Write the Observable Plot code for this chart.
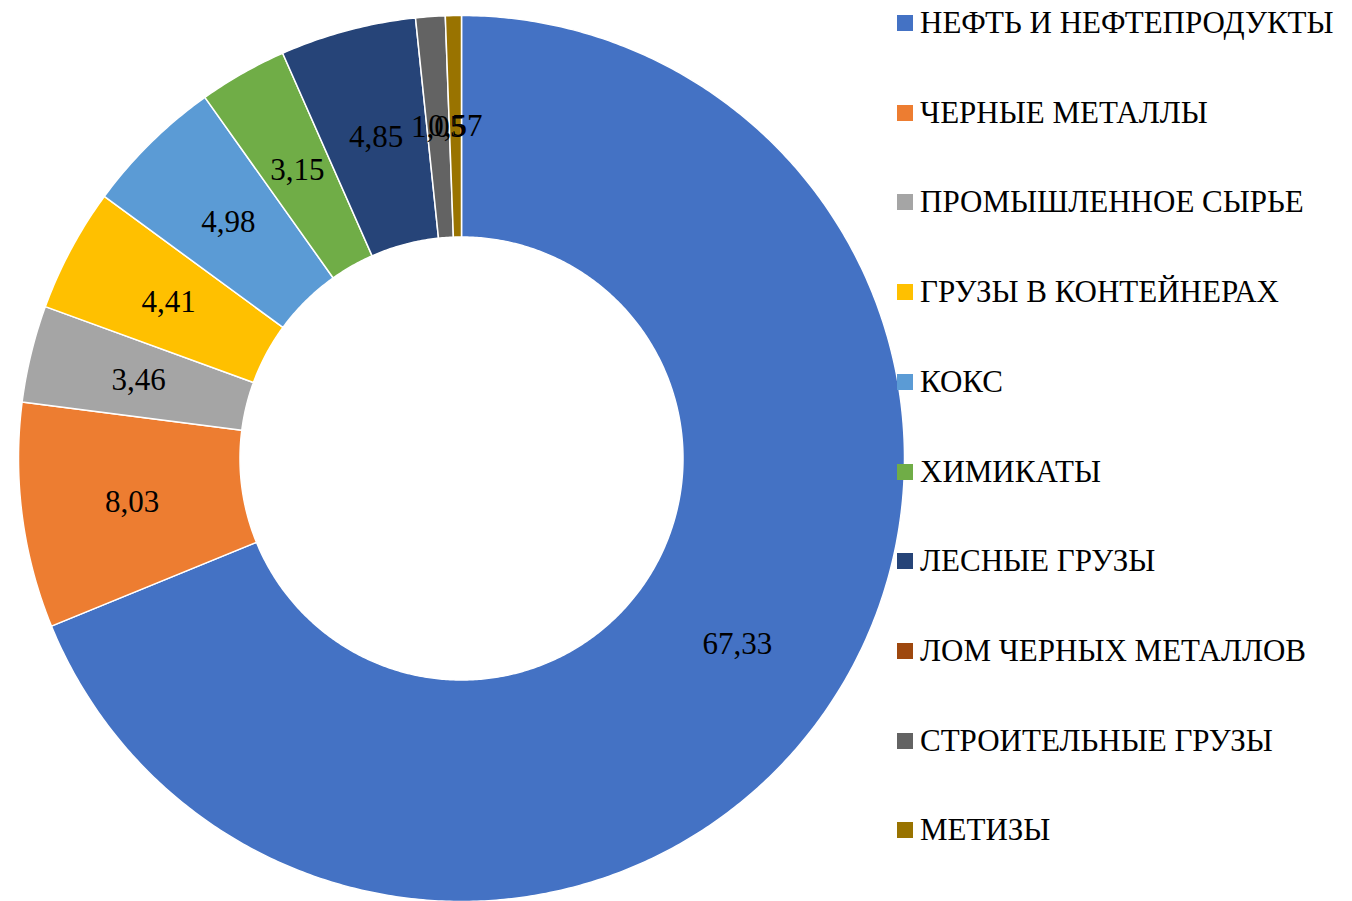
<!DOCTYPE html>
<html>
<head>
<meta charset="utf-8">
<script src="https://cdn.jsdelivr.net/npm/d3@7"></script>
<script src="https://cdn.jsdelivr.net/npm/@observablehq/plot@0.6"></script>
<style>
  html, body { margin: 0; padding: 0; background: #fff; }
  #wrap { position: relative; width: 1352px; height: 901px; overflow: hidden; }
  #legend { position: absolute; left: 897px; top: 0; font-family: "Liberation Serif", "DejaVu Serif", serif; font-size: 31px; color: #000; }
  .row { position: absolute; left: 0; display: flex; align-items: center; white-space: nowrap; height: 40px; }
  .sw { width: 16px; height: 16px; margin-right: 7px; flex: none; }
</style>
</head>
<body>
<div id="wrap"><div id="chart"></div><div id="legend"></div></div>
<script>
const categories = ["НЕФТЬ И НЕФТЕПРОДУКТЫ","ЧЕРНЫЕ МЕТАЛЛЫ","ПРОМЫШЛЕННОЕ СЫРЬЕ","ГРУЗЫ В КОНТЕЙНЕРАХ","КОКС","ХИМИКАТЫ","ЛЕСНЫЕ ГРУЗЫ","ЛОМ ЧЕРНЫХ МЕТАЛЛОВ","СТРОИТЕЛЬНЫЕ ГРУЗЫ","МЕТИЗЫ"];
const values = [67.33, 8.03, 3.46, 4.41, 4.98, 3.15, 4.85, 0, 1.05, 0.57];
const labels = ["67,33","8,03","3,46","4,41","4,98","3,15","4,85","","1,05","0,57"];
const colors = ["#4472C4","#ED7D31","#A5A5A5","#FFC000","#5B9BD5","#70AD47","#264478","#9E480E","#636363","#997300"];

const total = d3.sum(values);
const R = 1, r0 = 0.5;
const polys = [];
const textPts = [];
let cum = 0;
values.forEach((v, i) => {
  const a0 = cum / total * 2 * Math.PI;
  cum += v;
  const a1 = cum / total * 2 * Math.PI;
  if (v > 0) {
    const step = Math.PI / 360;
    const angs = d3.range(a0, a1, step).concat([a1]);
    angs.forEach(a => polys.push({name: categories[i], x: R * Math.sin(a), y: R * Math.cos(a)}));
    angs.slice().reverse().forEach(a => polys.push({name: categories[i], x: r0 * Math.sin(a), y: r0 * Math.cos(a)}));
    const am = (a0 + a1) / 2, rm = (R + r0) / 2;
    textPts.push({x: rm * Math.sin(am), y: rm * Math.cos(am), label: labels[i]});
  }
});

const chart = Plot.plot({
  width: 1352,
  height: 901,
  margin: 0,
  x: {domain: [-1, 1], range: [18, 904], axis: null},
  y: {domain: [-1, 1], range: [901, 15], axis: null},
  color: {domain: categories, range: colors},
  style: {background: "white", fontFamily: "'Liberation Serif', 'DejaVu Serif', serif"},
  marks: [
    Plot.line(polys, {x: "x", y: "y", z: "name", fill: "name", stroke: "white", strokeWidth: 1.5, strokeLinejoin: "round", curve: "linear-closed"}),
    Plot.text(textPts, {x: "x", y: "y", text: "label", fontSize: 31, fontFamily: "'Liberation Serif', 'DejaVu Serif', serif", fill: "black"})
  ]
});
document.getElementById("chart").appendChild(chart);

const legend = document.getElementById("legend");
categories.forEach((c, i) => {
  const row = document.createElement("div");
  row.className = "row";
  row.style.top = (3 + i * 89.7) + "px";
  const sw = document.createElement("span");
  sw.className = "sw";
  sw.style.background = colors[i];
  const t = document.createElement("span");
  t.textContent = c;
  row.appendChild(sw); row.appendChild(t);
  legend.appendChild(row);
});
</script>
</body>
</html>
